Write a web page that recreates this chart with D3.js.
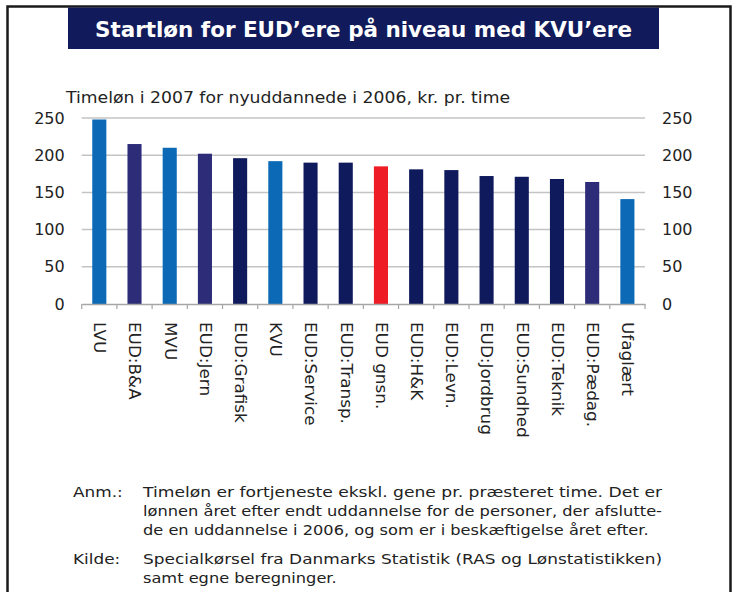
<!DOCTYPE html>
<html>
<head>
<meta charset="utf-8">
<script src="https://cdn.jsdelivr.net/npm/d3@7"></script>
<style>
html,body{margin:0;padding:0;background:#fff;}
svg{display:block;}
text{font-family:"DejaVu Sans",Verdana,sans-serif;}
</style>
</head>
<body>
<svg id="chart" width="735" height="592"></svg>
<script>
const categories = ["LVU","EUD:B&A","MVU","EUD:Jern","EUD:Grafisk","KVU","EUD:Service","EUD:Transp.","EUD gnsn.","EUD:H&K","EUD:Levn.","EUD:Jordbrug","EUD:Sundhed","EUD:Teknik","EUD:Pædag.","Ufaglært"];
const values = [248,215,210,202,196,192,190,190,185,181,180,172,171,168,164,141];
const groups = ["other","eudA","other","eudA","eud","other","eud","eud","avg","eud","eud","eud","eud","eud","eudA","other"];
const yTicks = [0,50,100,150,200,250];
const title = "Startløn for EUD\u2019ere på niveau med KVU\u2019ere";
const subtitle = "Timeløn i 2007 for nyuddannede i 2006, kr. pr. time";
const noteLabels = ["Anm.:","Kilde:"];
const noteLines = [
  ["Timeløn er fortjeneste ekskl. gene pr. præsteret time. Det er","lønnen året efter endt uddannelse for de personer, der afslutte-","de en uddannelse i 2006, og som er i beskæftigelse året efter."],
  ["Specialkørsel fra Danmarks Statistik (RAS og Lønstatistikken)","samt egne beregninger."]
];
const justified = [[true,true,false],[true,false]];

const colorMap = {other:"#0b69b5", eudA:"#2c2c78", eud:"#0f1a5c", avg:"#ee1c25"};

const svg = d3.select("#chart");

function stretch(sel, factor, target){
  sel.each(function(){
    const L = this.getComputedTextLength();
    const w = target != null ? target : L*factor;
    d3.select(this).attr("textLength", w).attr("lengthAdjust","spacingAndGlyphs");
  });
}

// frame
svg.append("path")
  .attr("d","M7.5,592 V6.5 H730.5 V592")
  .attr("fill","none").attr("stroke","#1a1a1a").attr("stroke-width",2.5);

// title box
svg.append("rect").attr("x",68).attr("y",7.5).attr("width",591).attr("height",41.5).attr("fill","#111a5a");
const tt = svg.append("text").attr("x",95).attr("y",37)
  .attr("fill","#fff").attr("font-weight","bold").attr("font-size",20.5).text(title);
stretch(tt, null, 537);

const st = svg.append("text").attr("x",66).attr("y",103).attr("font-size",16).attr("fill","#222").text(subtitle);
stretch(st, null, 444);

const x0 = 81.7, x1 = 645, yTop = 118, yBot = 304;
const x = d3.scaleBand().domain(categories).range([x0,x1]).paddingInner(0.6).paddingOuter(0.3);
const y = d3.scaleLinear().domain([0,250]).range([yBot,yTop]);

// gridlines
svg.append("g").selectAll("line").data(yTicks.filter(d=>d>0)).join("line")
  .attr("x1",x0).attr("x2",x1).attr("y1",d=>y(d)).attr("y2",d=>y(d))
  .attr("stroke","#c4c4c4").attr("stroke-width",1.5);

// bars
svg.append("g").selectAll("rect").data(values).join("rect")
  .attr("x",(d,i)=>x(categories[i]))
  .attr("y",d=>y(d))
  .attr("width",x.bandwidth())
  .attr("height",d=>yBot-y(d))
  .attr("fill",(d,i)=>colorMap[groups[i]]);

// x axis
const gx = svg.append("g").attr("transform",`translate(0,${yBot})`)
  .call(d3.axisBottom(x).tickSize(0).tickFormat(""));
gx.select(".domain").attr("stroke","#a6a6a6").attr("stroke-width",1.5);
const boundaries = d3.range(categories.length+1).map(i=>x0 + i*(x1-x0)/categories.length);
gx.selectAll("line.b").data(boundaries).join("line").attr("class","b")
  .attr("x1",d=>d).attr("x2",d=>d).attr("y1",0).attr("y2",5)
  .attr("stroke","#a6a6a6").attr("stroke-width",1.2);

// category labels
const cl = svg.append("g").selectAll("text").data(categories).join("text")
  .attr("transform",d=>`translate(${x(d)+x.bandwidth()/2+0.5},322) rotate(90)`)
  .attr("dy","0.35em")
  .attr("font-size",16).attr("fill","#222").text(d=>d);
stretch(cl, 1.05);

// y axes
const yl = svg.append("g").attr("transform",`translate(${x0},0)`)
  .call(d3.axisLeft(y).tickValues(yTicks).tickSize(0).tickPadding(17));
const yr = svg.append("g").attr("transform",`translate(${x1},0)`)
  .call(d3.axisRight(y).tickValues(yTicks).tickSize(0).tickPadding(17));
[yl,yr].forEach(g=>{
  g.select(".domain").remove();
  g.selectAll("text").attr("font-size",16).attr("fill","#222")
    .attr("font-family","DejaVu Sans, Verdana, sans-serif");
});

// notes
const noteY = [[497,516,535],[564,583]];
noteLabels.forEach((lab,i)=>{
  const lt = svg.append("text").attr("x",73).attr("y",noteY[i][0]).attr("font-size",13.5).attr("fill","#222").text(lab);
  stretch(lt, 1.25);
  noteLines[i].forEach((ln,j)=>{
    const t = svg.append("text").attr("x",143).attr("y",noteY[i][j]).attr("font-size",13.5).attr("fill","#222").text(ln);
    stretch(t, 1.2, justified[i][j] ? 519 : null);
  });
});
</script>
</body>
</html>
